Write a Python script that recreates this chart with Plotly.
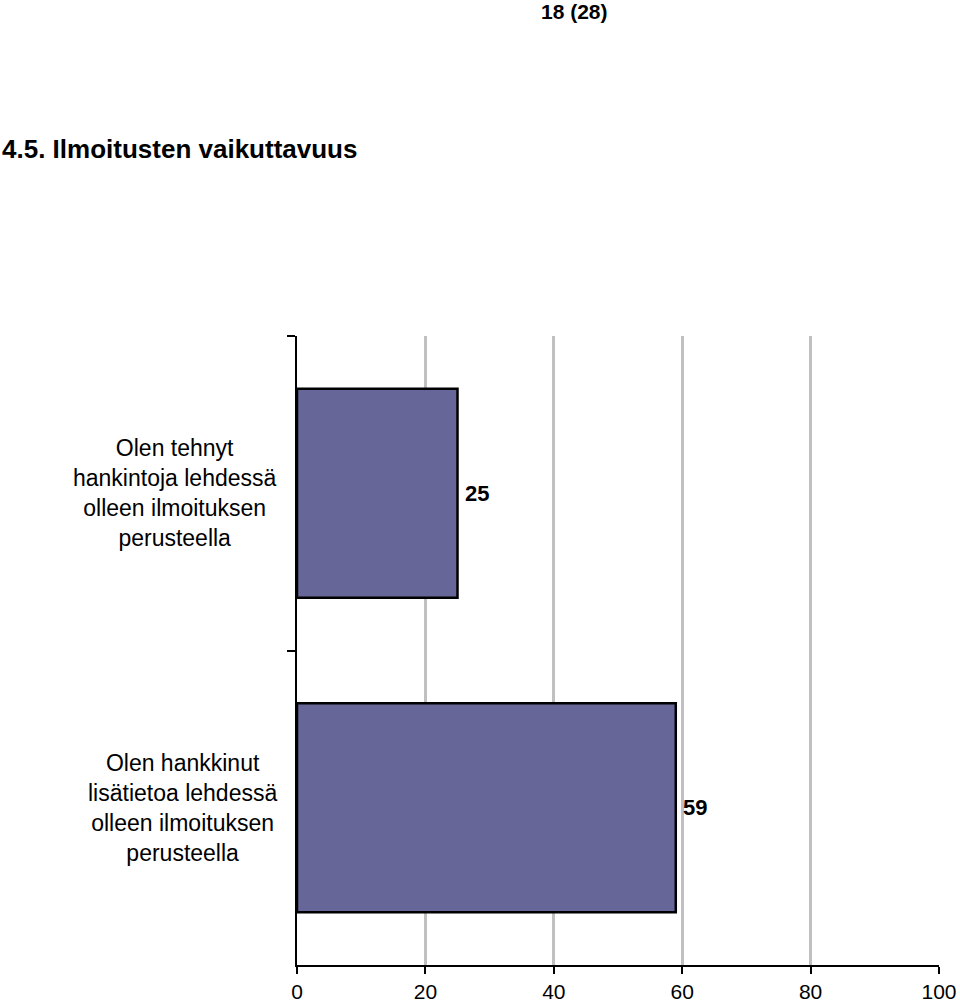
import plotly.graph_objects as go

# data
categories = ["Olen tehnyt<br>hankintoja lehdessä<br>olleen ilmoituksen<br>perusteella",
              "Olen hankkinut<br>lisätietoa lehdessä<br>olleen ilmoituksen<br>perusteella"]
values = [25, 59]
x_ticks = [0, 20, 40, 60, 80, 100]

bar_color = "#666699"
font_main = "Liberation Sans, Arial, sans-serif"

W, H = 960, 1005
L, T, R, B = 297, 336, 21, 40
pw, ph = W - L - R, H - T - B


def px_x(p):
    # page pixel -> paper x
    return (p - L) / pw


def px_y(p):
    # page pixel -> paper y
    return (H - B - p) / ph


fig = go.Figure()
fig.add_trace(go.Bar(
    y=categories, x=values, orientation="h",
    marker=dict(color=bar_color, line=dict(color="black", width=2.5)),
))

# value labels a little right of the bar ends
for c, v in zip(categories, values):
    fig.add_annotation(x=v, xref="x", y=c, yref="y", text="<b>%d</b>" % v,
                       showarrow=False, xanchor="left", xshift=5,
                       font=dict(family=font_main, size=22, color="black"))

# category labels as centred multi-line text beside the axis
for c in categories:
    fig.add_annotation(x=px_x(279), xref="paper", y=c, yref="y", text=c,
                       showarrow=False, xanchor="right", align="center",
                       font=dict(family=font_main, size=23, color="black"))

fig.add_annotation(text="<b>18 (28)</b>", xref="paper", yref="paper",
                   x=px_x(610), y=px_y(-2), xanchor="right", yanchor="top",
                   showarrow=False,
                   font=dict(family=font_main, size=21, color="black"))
fig.add_annotation(text="<b>4.5. Ilmoitusten vaikuttavuus</b>", xref="paper", yref="paper",
                   x=px_x(0), y=px_y(132), xanchor="left", yanchor="top",
                   showarrow=False,
                   font=dict(family=font_main, size=26, color="black"))

fig.update_layout(
    width=W, height=H,
    margin=dict(l=L, r=R, t=T, b=B),
    paper_bgcolor="white", plot_bgcolor="white",
    showlegend=False, bargap=0.335,
    font=dict(family=font_main, size=21, color="black"),
)

fig.update_xaxes(range=[0, 100], tickvals=x_ticks, showgrid=True,
                 gridcolor="#c0c0c0", gridwidth=2.5,
                 showline=True, linecolor="black", linewidth=2,
                 ticks="outside", ticklen=7, tickwidth=2, tickcolor="black",
                 tickfont=dict(size=21), zeroline=False, fixedrange=True,
                 automargin=False)
fig.update_yaxes(autorange="reversed", showticklabels=False,
                 showline=True, linecolor="black", linewidth=2,
                 ticks="outside", tickson="boundaries", ticklen=8, tickwidth=2,
                 tickcolor="black", showgrid=False, fixedrange=True,
                 automargin=False)

fig.write_html("out.html", config={"displayModeBar": False},
               post_script="document.body.style.margin='0';")
